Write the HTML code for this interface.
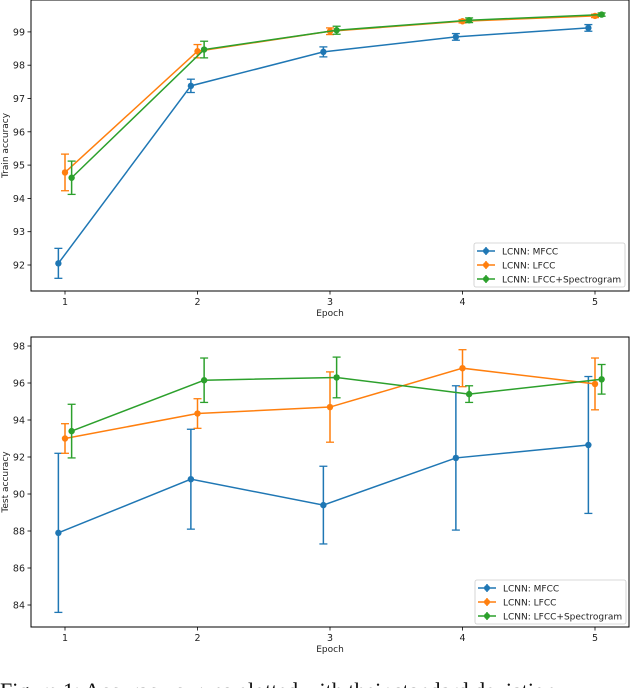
<!DOCTYPE html>
<html><head><meta charset="utf-8"><style>
html,body{margin:0;padding:0;background:#fff;width:630px;height:688px;overflow:hidden;}
svg{display:block;font-family:"DejaVu Sans","Liberation Sans",sans-serif;}
</style></head><body>
<svg id="fig" width="630" height="688">
<text x="0" y="698" font-family="Liberation Serif, serif" font-size="22" fill="#111">Figure 1: Accuracy curves plotted with their standard deviation</text>
</svg>
<script>
const epochs=[1,2,3,4,5];
const seriesNames=["LCNN: MFCC","LCNN: LFCC","LCNN: LFCC+Spectrogram"];
const colors=["#1f77b4","#ff7f0e","#2ca02c"];
const offsets=[-0.05,0,0.05];
const trainMfcc=[92.05,97.38,98.4,98.85,99.12];
const trainMfccErr=[0.45,0.2,0.15,0.1,0.1];
const trainLfcc=[94.78,98.42,99.02,99.32,99.48];
const trainLfccErr=[0.55,0.2,0.1,0.05,0.05];
const trainSpec=[94.62,98.47,99.05,99.35,99.52];
const trainSpecErr=[0.5,0.25,0.12,0.07,0.05];
const testMfcc=[87.9,90.8,89.4,91.95,92.65];
const testMfccErr=[4.3,2.7,2.1,3.9,3.7];
const testLfcc=[93.0,94.35,94.7,96.8,95.95];
const testLfccErr=[0.8,0.8,1.9,1.0,1.4];
const testSpec=[93.4,96.15,96.3,95.4,96.2];
const testSpecErr=[1.45,1.2,1.1,0.45,0.8];
const trainTicks=[92,93,94,95,96,97,98,99];
const testTicks=[84,86,88,90,92,94,96,98];
const NS="http://www.w3.org/2000/svg";
const svg=document.getElementById('fig');
function mk(tag,attrs,parent){const e=document.createElementNS(NS,tag);for(const k in attrs)e.setAttribute(k,attrs[k]);(parent||svg).appendChild(e);return e;}
function panel(cfg){
  const g=mk('g',{});
  
  
  const L=31,R=629,T=cfg.top,B=cfg.bottom;
  const xs=v=>65+(v-1)*132.5;
  const ys=v=>cfg.y0+(v-cfg.v0)*cfg.k;
  cfg.ticks.forEach(t=>{const y=ys(t);
    mk('line',{x1:L-3.5,x2:L,y1:y,y2:y,stroke:'#000','stroke-width':0.8},g);
    const tx=mk('text',{x:L-6,y:y+3.5,'text-anchor':'end','font-size':9.5,fill:'#222'},g);tx.textContent=t;
    
    });
  epochs.forEach(e=>{const x=xs(e);
    mk('line',{x1:x,x2:x,y1:B,y2:B+3.5,stroke:'#000','stroke-width':0.8},g);
    const tx=mk('text',{x:x,y:B+14,'text-anchor':'middle','font-size':9.5,fill:'#222'},g);tx.textContent=e;
    
    });
  const xl=mk('text',{x:330,y:B+25,'text-anchor':'middle','font-size':9,fill:'#222'},g);xl.textContent='Epoch';
  
  
  const cy=(T+B)/2;
  const yl=mk('text',{x:8,y:cy,'text-anchor':'middle','font-size':9,fill:'#222',transform:`rotate(-90 8 ${cy})`},g);yl.textContent=cfg.ylabel;
  
  
  cfg.series.forEach((s,i)=>{
    const sg=mk('g',{},g);
    
    
    const pts=s.v.map((v,j)=>[xs(epochs[j]+offsets[i]),ys(v)]);
    mk('polyline',{points:pts.map(p=>p.join(',')).join(' '),fill:'none',stroke:colors[i],'stroke-width':1.5},sg);
    s.v.forEach((v,j)=>{const x=pts[j][0];const y1=ys(v-s.e[j]),y2=ys(v+s.e[j]);
      mk('line',{x1:x,x2:x,y1:y1,y2:y2,stroke:colors[i],'stroke-width':1.5},sg);
      mk('line',{x1:x-4,x2:x+4,y1:y1,y2:y1,stroke:colors[i],'stroke-width':1.3},sg);
      mk('line',{x1:x-4,x2:x+4,y1:y2,y2:y2,stroke:colors[i],'stroke-width':1.3},sg);
      const c=mk('circle',{cx:x,cy:pts[j][1],r:3.2,fill:colors[i]},sg);
      
      });
  });
  mk('rect',{x:L,y:T,width:R-L,height:B-T,fill:'none',stroke:'#000','stroke-width':1},g);
  const lg=mk('g',{},g);
  
  
  const lx=cfg.legX,ly=cfg.legY;
  mk('rect',{x:lx,y:ly,width:151,height:44,fill:'#fff',stroke:'#ccc','stroke-width':0.8,rx:2},lg);
  seriesNames.forEach((n,i)=>{const y=ly+8+i*14;
    mk('line',{x1:lx+3,x2:lx+21,y1:y,y2:y,stroke:colors[i],'stroke-width':1.5},lg);
    mk('line',{x1:lx+12,x2:lx+12,y1:y-4,y2:y+4,stroke:colors[i],'stroke-width':1.5},lg);
    mk('circle',{cx:lx+12,cy:y,r:3,fill:colors[i]},lg);
    const t=mk('text',{x:lx+28,y:y+3.5,'font-size':9,fill:'#222'},lg);t.textContent=n;
    
    });
}
panel({name:'train-accuracy-chart',top:0,bottom:291,y0:265,v0:92,k:-33.3,ticks:trainTicks,ylabel:'Train accuracy',legX:474,legY:243,
  series:[{v:trainMfcc,e:trainMfccErr},{v:trainLfcc,e:trainLfccErr},{v:trainSpec,e:trainSpecErr}]});
panel({name:'test-accuracy-chart',top:337,bottom:627,y0:605,v0:84,k:-18.5,ticks:testTicks,ylabel:'Test accuracy',legX:475,legY:580,
  series:[{v:testMfcc,e:testMfccErr},{v:testLfcc,e:testLfccErr},{v:testSpec,e:testSpecErr}]});
</script>
</body></html>
